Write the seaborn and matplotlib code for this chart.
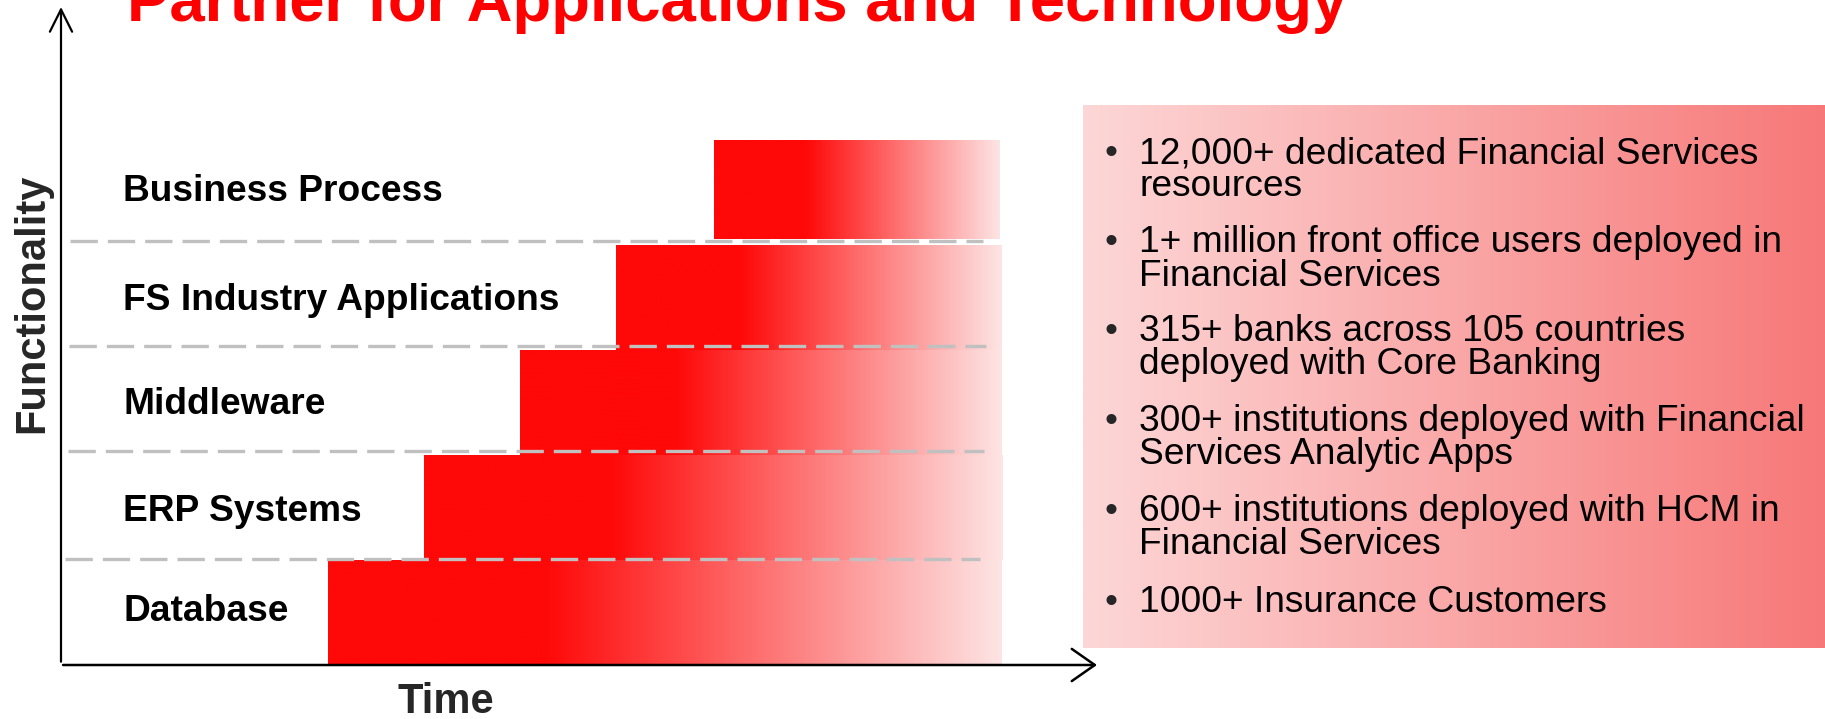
import matplotlib
matplotlib.use("Agg")
import matplotlib.pyplot as plt
import numpy as np
import seaborn as sns
from matplotlib.colors import LinearSegmentedColormap

# ── data ────────────────────────────────────────────────────────────────
TITLE = "Partner for Applications and Technology"
LAYERS = ["Database", "ERP Systems", "Middleware", "FS Industry Applications", "Business Process"]
STARTS = [2.58, 3.50, 4.43, 5.36, 6.30]      # time when the layer begins
ENDS = [9.08, 9.08, 9.08, 9.08, 9.06]
BOTTOMS = [0.0, 1.0, 2.0, 3.0, 4.06]
HEIGHTS = [1.0, 1.0, 1.0, 1.0, 0.94]
LABEL_Y = [0.52, 1.48, 2.50, 3.49, 4.53]
DIVIDER_Y = [1.01, 2.04, 3.04, 4.045]
DIVIDER_X0 = [0.04, 0.07, 0.08, 0.09]
DIVIDER_X1 = [8.87, 8.91, 8.93, 8.90]
BULLETS = [
    ["12,000+ dedicated Financial Services", "resources"],
    ["1+ million front office users deployed in", "Financial Services"],
    ["315+ banks across 105 countries", "deployed with Core Banking"],
    ["300+ institutions deployed with Financial", "Services Analytic Apps"],
    ["600+ institutions deployed with HCM in", "Financial Services"],
    ["1000+ Insurance Customers"],
]
BULLET_Y = [151, 240, 329, 419, 509, 600]    # first-line centre, px

# ── style ───────────────────────────────────────────────────────────────
sns.set_theme(style="white")
plt.rcParams["font.family"] = ["Liberation Sans", "DejaVu Sans"]

W, H = 1825, 719
fig = plt.figure(figsize=(W / 100, H / 100), dpi=100)


def fx(px):
    return px / W


def fy(py):
    return 1 - py / H


bar_cmap = LinearSegmentedColormap.from_list(
    "stair", [(0.0, "#ff0808"), (0.32, "#ff0808"), (1.0, "#fde4e4")]
)
box_cmap = sns.blend_palette(["#fdd7d7", "#f77878"], as_cmap=True)
grad = np.linspace(0, 1, 256).reshape(1, -1)

# ── staircase chart ────────────────────────────────────────────────────
ax = fig.add_axes([fx(61), fy(665), fx(1097) - fx(61), fy(7) - fy(665)])
ax.set_xlim(0, 10)
ax.set_ylim(0, 6.27)
ax.axis("off")

bars = ax.barh(
    [b + h / 2 for b, h in zip(BOTTOMS, HEIGHTS)],
    [e - s for s, e in zip(STARTS, ENDS)],
    left=STARTS,
    height=HEIGHTS,
    color="none",
    edgecolor="none",
)
for bar, s, e, b, h in zip(bars, STARTS, ENDS, BOTTOMS, HEIGHTS):
    im = ax.imshow(grad, cmap=bar_cmap, aspect="auto", extent=(s, e, b, b + h),
                   interpolation="bilinear", zorder=1)
    im.set_clip_path(bar)

for y, x0, x1 in zip(DIVIDER_Y, DIVIDER_X0, DIVIDER_X1):
    ax.plot([x0, x1], [y, y], color="#c0c0c0", lw=2.4, dashes=(8.2, 3.0),
            solid_capstyle="butt", zorder=3)

for name, y in zip(LAYERS, LABEL_Y):
    ax.text(0.6, y - 11 / 104.9, name, fontsize=26.7, fontweight="bold",
            color="black", va="baseline", ha="left", zorder=4)

# axis arrows
ax.annotate("", xy=(0, 1), xytext=(0, 0.005), xycoords="axes fraction",
            arrowprops=dict(arrowstyle="->,head_length=0.8,head_width=0.4",
                            mutation_scale=20, lw=1.6, color="black",
                            shrinkA=0, shrinkB=0), annotation_clip=False)
ax.annotate("", xy=(1, 0), xytext=(0.002, 0), xycoords="axes fraction",
            arrowprops=dict(arrowstyle="->,head_length=0.83,head_width=0.58",
                            mutation_scale=20, lw=1.8, color="black",
                            shrinkA=0, shrinkB=0), annotation_clip=False)

fig.text(fx(446), fy(713), "Time", fontsize=30, fontweight="bold",
         ha="center", va="baseline")
fig.text(fx(32.5), fy(303), "Functionality", fontsize=30, fontweight="bold",
         rotation=90, ha="center", va="center")

# title (top cut off as in the slide)
fig.text(fx(127), fy(21), TITLE, fontsize=45.7, fontweight="bold",
         color="#ff0000", ha="left", va="baseline")

# ── facts box ──────────────────────────────────────────────────────────
bx = fig.add_axes([fx(1083), fy(648), 1 - fx(1083), fy(105) - fy(648)])
bx.imshow(grad, cmap=box_cmap, aspect="auto", extent=(0, 1, 0, 1),
          interpolation="bilinear")
bx.set_xlim(0, 1)
bx.set_ylim(0, 1)
bx.axis("off")

for lines, y0 in zip(BULLETS, BULLET_Y):
    fig.text(fx(1111), fy(y0 + 12), "\u2022", fontsize=26.7, ha="center", va="baseline")
    for k, line in enumerate(lines):
        fig.text(fx(1139), fy(y0 + 12 + 33.5 * k), line, fontsize=26.7,
                 ha="left", va="baseline", color="black")

fig.savefig("out.png", dpi=100)
